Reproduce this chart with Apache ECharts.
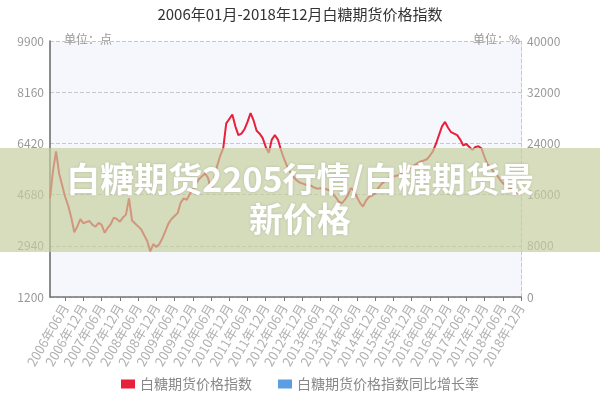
<!DOCTYPE html>
<html>
<head>
<meta charset="utf-8">
<script src="https://cdn.jsdelivr.net/npm/echarts@6/dist/echarts.min.js"></script>
<style>html,body{margin:0;padding:0;background:#fff;}#c{width:600px;height:400px;}</style>
</head>
<body>
<div id="c"></div>
<script>
var titleText = '2006年01月-2018年12月白糖期货价格指数';
var seriesNames = ['白糖期货价格指数', '白糖期货价格指数同比增长率'];
var leftTicks = [1200, 2940, 4680, 6420, 8160, 9900];
var rightTicks = [0, 8000, 16000, 24000, 32000, 40000];
var years = [2006,2007,2008,2009,2010,2011,2012,2013,2014,2015,2016,2017,2018];
var months = ['01','02','03','04','05','06','07','08','09','10','11','12'];
var categories = [];
years.forEach(function (y) { months.forEach(function (m) { categories.push(y + '年' + m + '月'); }); });

var priceIndex = [
4550,5500,6150,5400,5000,4600,4300,3900,3400,3600,3850,3700,
3750,3780,3650,3590,3720,3650,3380,3550,3680,3900,3850,3760,
3900,4000,4550,3800,3700,3600,3500,3300,3100,2750,3000,2900,
3000,3200,3450,3700,3850,3950,4050,4400,4550,4500,4700,4850,
5050,5200,5300,5400,5250,4800,5200,5650,6000,6250,7100,7250,
7400,7000,6700,6750,6900,7150,7450,7200,6850,6750,6600,6300,
6100,6550,6700,6550,6200,5900,5650,5450,5300,5180,5100,5060,
5020,5000,4980,4920,4880,4900,4880,4860,4820,4700,4600,4450,
4380,4500,4650,4900,4820,4600,4400,4270,4480,4600,4650,4720,
4900,5030,5120,5200,5260,5290,5320,5350,5420,5500,5560,5610,
5680,5750,5810,5840,5880,6000,6150,6400,6700,7000,7150,6950,
6800,6750,6700,6550,6350,6400,6300,6200,6300,6320,6250,5950,
5700,5600,5450,5350,5200,5070,5000,4920,4850,4780,4720,4700
];
var yoyGrowth = [];

var watermarkLines = ['白糖期货2205行情/白糖期货最', '新价格'];
var unitLeft = '单位：点';
var unitRight = '单位：%';

var chart = echarts.init(document.getElementById('c'), null, {renderer: 'canvas'});
var font = '"Noto Sans CJK SC", "Noto Sans", sans-serif';
var plain = function (v) { return String(v); };
chart.setOption({
  animation: false,
  backgroundColor: '#ffffff',
  textStyle: {fontFamily: font},
  title: {
    text: titleText, left: 'center', top: 2,
    textStyle: {fontSize: 15, fontWeight: 'normal', color: '#333', fontFamily: font}
  },
  legend: {
    data: seriesNames, bottom: 4, left: 'center',
    itemWidth: 14, itemHeight: 9, itemGap: 26,
    icon: 'rect',
    textStyle: {fontSize: 14, color: '#888', fontFamily: font}
  },
  grid: {
    left: 50, right: 79, top: 41, bottom: 103,
    show: true, backgroundColor: '#f6f7fc', borderWidth: 0
  },
  xAxis: {
    type: 'category', data: categories, boundaryGap: false,
    axisLine: {lineStyle: {color: '#777', width: 1.5}},
    axisTick: {show: true, interval: function (i) { return i % 6 === 5; }, lineStyle: {color: '#777'}, length: 4},
    axisLabel: {
      interval: function (i) { return i % 6 === 5; },
      rotate: 60, color: '#b0b0b0', fontSize: 13, margin: 8, fontFamily: font
    },
    splitLine: {show: false}
  },
  yAxis: [{
    type: 'value', min: leftTicks[0], max: leftTicks[leftTicks.length - 1],
    interval: leftTicks[1] - leftTicks[0],
    axisLine: {show: true, lineStyle: {color: '#666', width: 1.5}},
    axisTick: {show: false},
    axisLabel: {color: '#999', fontSize: 12, margin: 6, fontFamily: font, formatter: plain},
    splitLine: {show: true, lineStyle: {color: '#c8c8c8', type: 'dashed'}}
  }, {
    type: 'value', min: rightTicks[0], max: rightTicks[rightTicks.length - 1],
    interval: rightTicks[1] - rightTicks[0], position: 'right',
    axisLine: {show: true, lineStyle: {color: '#c8c8c8', type: 'dashed'}},
    axisTick: {show: false},
    axisLabel: {color: '#999', fontSize: 12, margin: 6, fontFamily: font, formatter: plain},
    splitLine: {show: false}
  }],
  series: [{
    name: seriesNames[0], type: 'line', data: priceIndex, yAxisIndex: 0,
    showSymbol: false, symbol: 'none',
    lineStyle: {color: '#e8203a', width: 2},
    itemStyle: {color: '#e8203a'}
  }, {
    name: seriesNames[1], type: 'line', data: yoyGrowth, yAxisIndex: 1,
    showSymbol: false, symbol: 'none',
    lineStyle: {color: '#5b9fe2', width: 2},
    itemStyle: {color: '#5b9fe2'}
  }],
  graphic: [{
    type: 'text', left: 64, top: 33, z: 10,
    style: {text: unitLeft, fill: '#999', fontSize: 12, fontFamily: font}
  }, {
    type: 'text', right: 80, top: 33, z: 10,
    style: {text: unitRight, fill: '#999', fontSize: 12, fontFamily: font}
  }, {
    type: 'rect', left: 0, top: 148, z: 100,
    shape: {width: 600, height: 104},
    style: {fill: 'rgba(197,206,157,0.68)'}
  }, {
    type: 'text', left: 'center', top: 162, z: 101,
    style: {
      text: watermarkLines[0], fill: '#ffffff', fontSize: 34, fontWeight: 'bold',
      fontFamily: font, textShadowColor: 'rgba(0,0,0,0.15)', textShadowBlur: 3
    }
  }, {
    type: 'text', left: 'center', top: 202, z: 101,
    style: {
      text: watermarkLines[1], fill: '#ffffff', fontSize: 34, fontWeight: 'bold',
      fontFamily: font, textShadowColor: 'rgba(0,0,0,0.15)', textShadowBlur: 3
    }
  }]
});
</script>
</body>
</html>
